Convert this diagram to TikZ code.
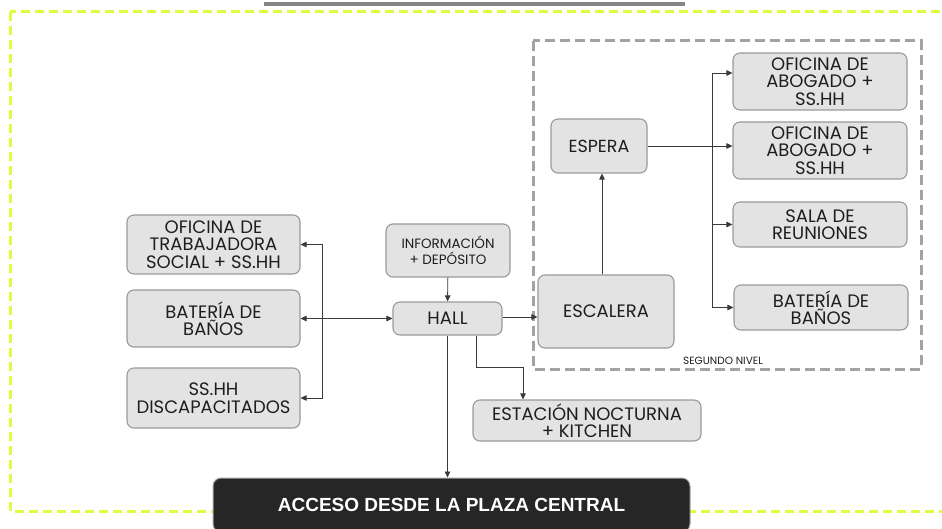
\documentclass[tikz,border=0pt]{standalone}
\usepackage{fontspec}
\newfontfamily\pop{Poppins}
\newfontfamily\libs{Liberation Sans}
\usetikzlibrary{arrows.meta,calc}
\definecolor{limec}{HTML}{D9FF40}
\definecolor{frameg}{HTML}{A3A3A3}
\definecolor{boxfill}{HTML}{E3E3E3}
\definecolor{boxline}{HTML}{9A9A9A}
\definecolor{txt}{HTML}{1E1E1E}
\definecolor{linec}{HTML}{3A3A3A}
\definecolor{darkbox}{HTML}{262626}
\begin{document}
\begin{tikzpicture}[x=1pt,y=-1pt,
  box/.style={rectangle, rounded corners=7pt, fill=boxfill, draw=boxline, line width=1.1pt,
    align=center, inner sep=0pt, text=txt, font=\pop\fontsize{18}{17.5}\selectfont},
  arr/.style={draw=linec, line width=0.9pt, -{Triangle[length=6pt,width=5.5pt]}},
  arrb/.style={draw=linec, line width=0.9pt, {Triangle[length=6pt,width=5.5pt]}-{Triangle[length=6pt,width=5.5pt]}},
  plain/.style={draw=linec, line width=0.9pt}
]
\clip (0,0) rectangle (942,529);
\fill[white] (0,0) rectangle (942,529);
% top grey bar
\fill[gray!95] (264,2) rectangle (685,6);
% outer lime dashed frame
\draw[limec, line width=3pt, dash pattern=on 9pt off 5pt] (10,12) rectangle (970,511);
% second level dashed frame
\draw[frameg, line width=3pt, dash pattern=on 10pt off 5pt] (533,41) rectangle (921,369);
\node[text=txt, font=\pop\fontsize{10.5}{11}\selectfont] (segn) at (723,361) {SEGUNDO NIVEL};

% nodes
\node[box, minimum width=173pt, minimum height=59pt] (ofts) at (213.5,244.5) {OFICINA DE\\TRABAJADORA\\SOCIAL + SS.HH};
\node[box, minimum width=173pt, minimum height=57pt] (bat1) at (213.5,318.5) {BATERÍA DE\\BAÑOS};
\node[box, minimum width=173pt, minimum height=60pt] (sshh) at (213.5,398) {SS.HH\\DISCAPACITADOS};
\node[box, minimum width=124pt, minimum height=53pt, font=\pop\fontsize{13.5}{16}\selectfont] (info) at (448,250.5) {INFORMACIÓN\\+ DEPÓSITO};
\node[box, minimum width=109pt, minimum height=33pt] (hall) at (447.5,318.5) {HALL};
\node[box, minimum width=228pt, minimum height=41pt] (estac) at (587,420.5) {ESTACIÓN NOCTURNA\\+ KITCHEN};
\node[box, minimum width=136pt, minimum height=73pt] (esca) at (606,311.5) {ESCALERA};
\node[box, minimum width=96pt, minimum height=54pt, font=\pop\fontsize{17.5}{18}\selectfont] (espera) at (599,146) {ESPERA};
\node[box, minimum width=174pt, minimum height=57pt] (ab1) at (820,81.5) {OFICINA DE\\ABOGADO +\\SS.HH};
\node[box, minimum width=174pt, minimum height=57pt] (ab2) at (820,150.5) {OFICINA DE\\ABOGADO +\\SS.HH};
\node[box, minimum width=174pt, minimum height=45pt] (sala) at (820,224.5) {SALA DE\\REUNIONES};
\node[box, minimum width=174pt, minimum height=45pt] (bat2) at (821,307.5) {BATERÍA DE\\BAÑOS};
\node[rectangle, rounded corners=8pt, fill=darkbox, draw=gray!70, line width=1pt,
  minimum width=477pt, minimum height=54pt, inner sep=0pt, text=white,
  font=\libs\bfseries\fontsize{19}{21}\selectfont] (acc) at (451.5,505) {ACCESO DESDE LA PLAZA CENTRAL};

% connectors
\draw[arr] (info) -- (hall);
\draw[arrb] (bat1.east) -- (hall.west);
\coordinate (busL) at (322,318.5);
\draw[arr] (busL) |- (ofts.east);
\draw[arr] (busL) |- (sshh.east);
\draw[arr] ([yshift=1.5pt]hall.east) -- ([yshift=1.5pt]hall.east -| esca.west);
\draw[arr] ([xshift=28.5pt]hall.south) -- ++(0,32) -| ([xshift=-64pt]estac.north);
\draw[arr] (hall.south) -- (hall.south |- acc.north);
\draw[arr] ([xshift=-4pt]esca.north) -- ([xshift=-4pt]esca.north |- espera.south);
\draw[arr] (espera.east) -- (espera.east -| ab2.west);
\coordinate (busR) at (712,146);
\draw[arr] (busR) |- ([yshift=8.5pt]ab1.west);
\draw[arr] (busR) |- (bat2.west);
\draw[arr] (busR |- sala.west) -- (sala.west);
\end{tikzpicture}
\end{document}
